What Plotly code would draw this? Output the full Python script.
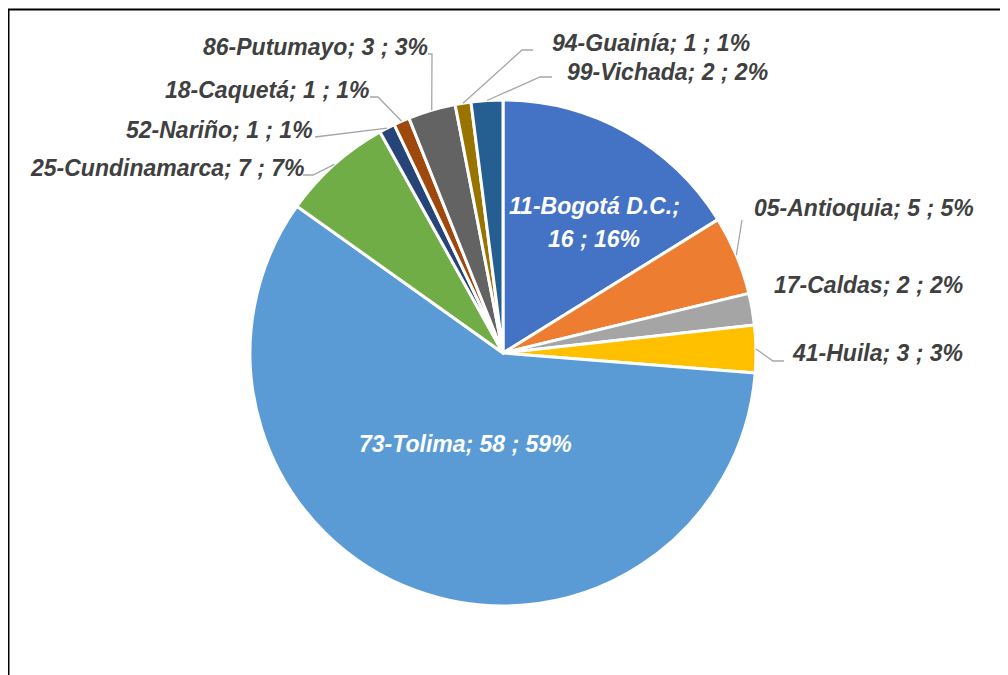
import math
import plotly.graph_objects as go

# ---- data ----
departments = ["11-Bogotá D.C.", "05-Antioquia", "17-Caldas", "41-Huila", "73-Tolima",
               "25-Cundinamarca", "52-Nariño", "18-Caquetá", "86-Putumayo",
               "94-Guainía", "99-Vichada"]
counts = [16, 5, 2, 3, 58, 7, 1, 1, 3, 1, 2]
colors = ["#4472C4", "#ED7D31", "#A5A5A5", "#FFC000", "#5B9BD5", "#70AD47",
          "#264478", "#9E480E", "#636363", "#997300", "#255E91"]

# ---- layout (page pixels; the page body has an 8px margin) ----
OFF = 8
W, H = 1000, 667
CX, CY, R = 503, 353, 253
FONT = "'Liberation Sans', Arial, sans-serif"
FS = 23
TXT = "#404040"
LINE = "#A6A6A6"

# per-label placement: (x, y, xanchor, leader path after slice point or None, inside?)
label_place = {
    "11-Bogotá D.C.": dict(x=594, y=222, xa="center", inside=True),
    "05-Antioquia": dict(x=752, y=208, xa="left", path=[(742, 220)]),
    "17-Caldas": dict(x=772, y=285, xa="left", path=None),
    "41-Huila": dict(x=790, y=353, xa="left", path=[(773, 361), (784, 361)]),
    "73-Tolima": dict(x=465, y=444, xa="center", inside=True),
    "25-Cundinamarca": dict(x=307, y=168, xa="right", path=[(313, 175), (303, 175)]),
    "52-Nariño": dict(x=315, y=130, xa="right", path=[(315, 137)]),
    "18-Caquetá": dict(x=372, y=90, xa="right", path=[(378, 97), (370, 97)]),
    "86-Putumayo": dict(x=430, y=47, xa="right", path=[(432, 54), (428, 54)]),
    "94-Guainía": dict(x=550, y=43, xa="left", path=[(522, 50), (533, 50)]),
    "99-Vichada": dict(x=565, y=72, xa="left", path=[(540, 77), (552, 77)]),
}


def px(x):
    return (x - OFF) / W


def py(y):
    return 1 - (y - OFF) / H


total = sum(counts)
fig = go.Figure(go.Pie(
    labels=departments, values=counts, sort=False, direction="clockwise", rotation=0,
    marker=dict(colors=colors, line=dict(color="white", width=3)),
    textinfo="none", hoverinfo="label+value+percent", showlegend=False,
    domain=dict(x=[px(CX - R), px(CX + R)], y=[py(CY + R), py(CY - R)]),
))

annotations = []
shapes = []
cum = 0
for name, v in zip(departments, counts):
    mid = (cum + v / 2) / total * 2 * math.pi
    cum += v
    pct = round(100 * v / total)
    p = label_place[name]
    if p.get("inside"):
        if name.startswith("11"):
            lines = [f"{name};", f"{v} ; {pct}%"]
        else:
            lines = [f"{name}; {v} ; {pct}%"]
        n = len(lines)
        for i, t in enumerate(lines):
            yy = p["y"] + (i - (n - 1) / 2) * 33
            annotations.append(dict(x=px(p["x"]), y=py(yy), xref="paper", yref="paper",
                                    text=f"<b><i>{t}</i></b>", showarrow=False,
                                    xanchor="center", yanchor="middle",
                                    font=dict(family=FONT, size=FS, color="white")))
    else:
        annotations.append(dict(x=px(p["x"]), y=py(p["y"]), xref="paper", yref="paper",
                                text=f"<b><i>{name}; {v} ; {pct}%</i></b>", showarrow=False,
                                xanchor=p["xa"], yanchor="middle",
                                font=dict(family=FONT, size=FS, color=TXT)))
        if p["path"]:
            sx = CX + R * math.sin(mid)
            sy = CY - R * math.cos(mid)
            pts = [(sx, sy)] + p["path"]
            d = "M " + " L ".join(f"{px(a):.5f},{py(b):.5f}" for a, b in pts)
            shapes.append(dict(type="path", path=d, xref="paper", yref="paper",
                               line=dict(color=LINE, width=1.3)))

# chart frame (top and left edges visible)
shapes.append(dict(type="line", xref="paper", yref="paper", x0=px(7.5), x1=1.02,
                   y0=py(9.5), y1=py(9.5), line=dict(color="black", width=2)))
shapes.append(dict(type="line", xref="paper", yref="paper", x0=px(8.5), x1=px(8.5),
                   y0=py(9.5), y1=-0.02, line=dict(color="black", width=2)))

fig.update_layout(
    width=W, height=H, margin=dict(l=0, r=0, t=0, b=0),
    paper_bgcolor="white", plot_bgcolor="white",
    annotations=annotations, shapes=shapes,
)
fig.write_html("out.html")
